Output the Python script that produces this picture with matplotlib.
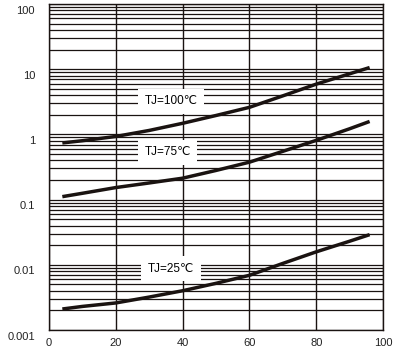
import matplotlib
matplotlib.use("Agg")
import matplotlib.pyplot as plt
import matplotlib.transforms as mtransforms
from matplotlib.ticker import LogLocator, FixedLocator, NullFormatter

plt.rcParams['font.family'] = ['Liberation Sans', 'DejaVu Sans']

x = [4, 10, 20, 30, 40, 50, 60, 70, 80, 90, 96]
tj100 = [0.74, 0.80, 0.93, 1.15, 1.48, 1.95, 2.6, 3.9, 5.9, 8.5, 10.6]
tj75 = [0.111, 0.125, 0.153, 0.18, 0.213, 0.28, 0.375, 0.55, 0.81, 1.22, 1.58]
tj25 = [0.0021, 0.0023, 0.0026, 0.0032, 0.004, 0.0052, 0.0069, 0.0105, 0.0158, 0.023, 0.029]

labels = ['TJ=100℃', 'TJ=75℃', 'TJ=25℃']
label_x = [36.5, 35.5, 36.5]
label_y = [3.2, 0.53, 0.0087]

x_ticks = [0, 20, 40, 60, 80, 100]
y_ticks = [0.001, 0.01, 0.1, 1, 10, 100]
y_ticklabels = ['0.001', '0.01', '0.1', '1', '10', '100']

fig = plt.figure(figsize=(3.95, 3.48), dpi=100)
ax = fig.add_axes([0.124, 0.0517, 0.8456, 0.9368])

for serie in (tj100, tj75, tj25):
    ax.plot(x, serie, color='#1a1311', lw=2.5, solid_capstyle='butt', zorder=3)

ax.set_yscale('log')
ax.set_xlim(0, 100)
ax.set_ylim(0.001, 100)

ax.xaxis.set_major_locator(FixedLocator(x_ticks))
ax.set_xticklabels([str(t) for t in x_ticks])
ax.yaxis.set_major_locator(FixedLocator(y_ticks))
ax.set_yticklabels(y_ticklabels)
ax.yaxis.set_minor_locator(LogLocator(base=10, subs=range(2, 10), numticks=20))
ax.yaxis.set_minor_formatter(NullFormatter())

ax.tick_params(which='both', length=0, labelsize=8, colors='#222222')
ax.tick_params(axis='y', pad=10)
ax.tick_params(axis='x', pad=6)

# etykiety osi y lekko przesuniete w dol jak na oryginale
off = mtransforms.ScaledTranslation(0, -4 / 72, fig.dpi_scale_trans)
for lab in ax.get_yticklabels():
    lab.set_transform(lab.get_transform() + off)

ax.grid(True, which='major', axis='x', color='#1a1311', lw=1.0)
ax.grid(True, which='both', axis='y', color='#1a1311', lw=0.9)
for s in ax.spines.values():
    s.set_color('#1a1311')
    s.set_linewidth(1.0)

for lab, lx, ly in zip(labels, label_x, label_y):
    ax.text(lx, ly, lab, fontsize=8.5, ha='center', va='center', zorder=2,
            bbox=dict(facecolor='white', edgecolor='none',
                      boxstyle='square,pad=0.55'))

fig.savefig('out.png', dpi=100)
